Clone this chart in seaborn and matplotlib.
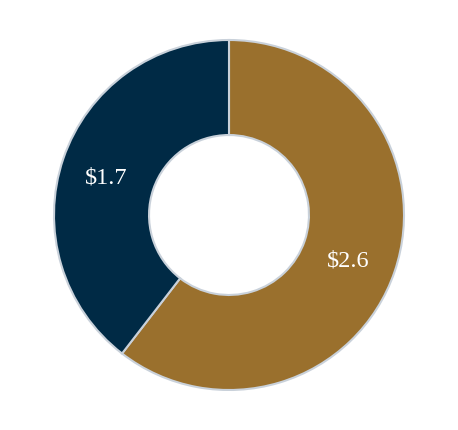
import matplotlib
matplotlib.use("Agg")
import matplotlib.pyplot as plt
import numpy as np
import seaborn as sns

# Values from the chart (in $)
segments = ["Gold", "Navy"]
values = [2.6, 1.7]
labels = ["$2.6", "$1.7"]
colors = ["#9A702D", "#002A45"]

sns.set_theme(style="white")
plt.rcParams["font.family"] = ["Liberation Serif", "DejaVu Serif"]

fig = plt.figure(figsize=(4.58, 4.30), dpi=100)
ax = fig.add_axes([0, 0, 1, 1])

wedges, _ = ax.pie(
    values,
    colors=sns.color_palette(colors),
    startangle=90,
    counterclock=False,
    radius=1.0,
    wedgeprops=dict(width=0.543, edgecolor="#C9D1DA", linewidth=1.5),
)

total = sum(values)
start = 90.0
for v, lab in zip(values, labels):
    sweep = 360.0 * v / total
    mid = np.deg2rad(start - sweep / 2)
    r = 0.73
    ax.text(r * np.cos(mid) - 0.012, r * np.sin(mid) - 0.027, lab,
            ha="center", va="center", color="white", fontsize=17.5)
    start -= sweep

ax.set_xlim(-229 / 175, 229 / 175)
ax.set_ylim(-215 / 175, 215 / 175)
ax.set_aspect("equal")
ax.axis("off")

fig.savefig("out.png", dpi=100, facecolor="white")
